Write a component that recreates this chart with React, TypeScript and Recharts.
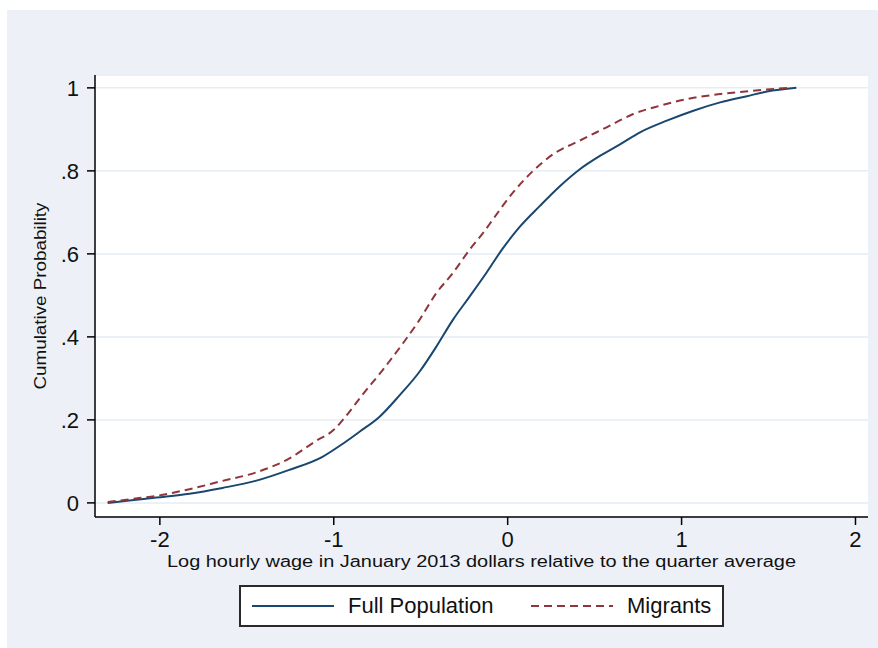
import React from "react";
import { LineChart, Line, XAxis, YAxis, CartesianGrid, Legend } from "recharts";

type Pt = { x: number; y: number };

const fullPopX = [-2.3, -2.15, -2.02, -1.83, -1.64, -1.45, -1.26, -1.065, -0.95, -0.85, -0.738, -0.622, -0.507, -0.411, -0.315, -0.219, -0.123, -0.03, 0.069, 0.184, 0.3, 0.415, 0.53, 0.646, 0.761, 0.915, 1.068, 1.222, 1.376, 1.491, 1.66];
const fullPopY = [0, 0.007, 0.013, 0.022, 0.036, 0.053, 0.079, 0.111, 0.142, 0.172, 0.207, 0.259, 0.316, 0.376, 0.441, 0.497, 0.554, 0.612, 0.665, 0.715, 0.763, 0.804, 0.836, 0.864, 0.893, 0.921, 0.945, 0.965, 0.98, 0.991, 1.0];

const migrantsX = [-2.3, -2.15, -2.02, -1.83, -1.64, -1.45, -1.26, -1.1, -1.0, -0.95, -0.83, -0.719, -0.603, -0.507, -0.411, -0.315, -0.219, -0.133, -0.085, 0.031, 0.146, 0.261, 0.415, 0.569, 0.722, 0.876, 1.03, 1.183, 1.337, 1.491, 1.61];
const migrantsY = [0.002, 0.01, 0.017, 0.033, 0.053, 0.073, 0.106, 0.15, 0.176, 0.199, 0.263, 0.32, 0.384, 0.441, 0.505, 0.554, 0.61, 0.655, 0.683, 0.748, 0.8, 0.84, 0.873, 0.905, 0.937, 0.957, 0.973, 0.983, 0.99, 0.996, 1.0];

const xTicks = [-2, -1, 0, 1, 2];
const yTicks = [0, 0.2, 0.4, 0.6, 0.8, 1];
const yTickLabels = ["0", ".2", ".4", ".6", ".8", "1"];

const seriesNames = ["Full Population", "Migrants"];

const zip = (xs: number[], ys: number[]): Pt[] => xs.map((x, i) => ({ x, y: ys[i] }));
const fullPop = zip(fullPopX, fullPopY);
const migrants = zip(migrantsX, migrantsY);

const FONT = "'Liberation Sans', Arial, Helvetica, sans-serif";
const NAVY = "#1A476F";
const MAROON = "#90353B";

function LegendBox(props: any) {
  const items = props.payload ?? [];
  const lefts = [11, 290];
  return (
    <div
      style={{
        width: 485,
        height: 42,
        boxSizing: "border-box",
        border: "2px solid #2a2a2a",
        background: "#fff",
        position: "relative",
        fontFamily: FONT,
        fontSize: 22,
        color: "#111",
      }}
    >
      {items.map((e: any, i: number) => (
        <div
          key={e.value}
          style={{ position: "absolute", left: lefts[i], top: 0, height: 38, display: "flex", alignItems: "center" }}
        >
          <svg width={82} height={6}>
            <line x1={0} y1={3} x2={82} y2={3} stroke={e.color} strokeWidth={2} strokeDasharray={e.payload?.strokeDasharray} />
          </svg>
          <span style={{ marginLeft: 14 }}>{e.value}</span>
        </div>
      ))}
    </div>
  );
}

export default function App() {
  return (
    <div style={{ position: "absolute", left: 0, top: 0, width: 878, height: 648, background: "#fff" }}>
      <div style={{ position: "absolute", left: 7, top: 10, right: 0, bottom: 0, background: "#EDF1F7" }} />
      <div style={{ position: "absolute", left: 0, top: 0 }}>
        <LineChart width={878} height={648} margin={{ top: 75, right: 10, bottom: 0, left: 0 }}>
          <CartesianGrid vertical={false} stroke="#E6EDF4" strokeWidth={1.5} fill="#fff" />
          <XAxis
            dataKey="x"
            type="number"
            domain={[-2.373, 2.072]}
            ticks={xTicks}
            allowDataOverflow
            height={131}
            stroke="#000"
            strokeWidth={1.5}
            tickSize={8}
            tickMargin={6}
            tick={{ fill: "#111", fontSize: 22, fontFamily: FONT }}
            label={{
              content: (p: any) => {
                const vb = p.viewBox;
                return (
                  <text
                    x={vb.x + vb.width / 2}
                    y={vb.y + 50}
                    textAnchor="middle"
                    fontFamily={FONT}
                    fontSize={16}
                    fill="#111"
                    textLength={629}
                    lengthAdjust="spacingAndGlyphs"
                  >
                    Log hourly wage in January 2013 dollars relative to the quarter average
                  </text>
                );
              },
            }}
          />
          <YAxis
            dataKey="y"
            type="number"
            domain={[-0.034, 1.031]}
            ticks={yTicks}
            allowDataOverflow
            width={95}
            stroke="#000"
            strokeWidth={1.5}
            tickSize={8}
            tickMargin={8}
            tick={{ fill: "#111", fontSize: 22, fontFamily: FONT }}
            tickFormatter={(v: number) => yTickLabels[yTicks.indexOf(v)] ?? String(v)}
            label={{
              content: (p: any) => {
                const vb = p.viewBox;
                const cx = vb.x + 40;
                const cy = vb.y + vb.height / 2;
                return (
                  <text
                    x={cx}
                    y={cy}
                    transform={`rotate(-90 ${cx} ${cy})`}
                    textAnchor="middle"
                    dominantBaseline="central"
                    fontFamily={FONT}
                    fontSize={16}
                    fill="#111"
                    textLength={187}
                    lengthAdjust="spacingAndGlyphs"
                  >
                    Cumulative Probability
                  </text>
                );
              },
            }}
          />
          <Legend
            layout="horizontal"
            verticalAlign="middle"
            align="center"
            wrapperStyle={{ left: 239, top: 585, width: 485, height: 42 }}
            content={<LegendBox />}
          />
          <Line
            data={fullPop}
            dataKey="y"
            name={seriesNames[0]}
            type="monotone"
            stroke={NAVY}
            strokeWidth={2}
            dot={false}
            isAnimationActive={false}
          />
          <Line
            data={migrants}
            dataKey="y"
            name={seriesNames[1]}
            type="monotone"
            stroke={MAROON}
            strokeWidth={2}
            strokeDasharray="8 5"
            dot={false}
            isAnimationActive={false}
          />
        </LineChart>
      </div>
    </div>
  );
}
